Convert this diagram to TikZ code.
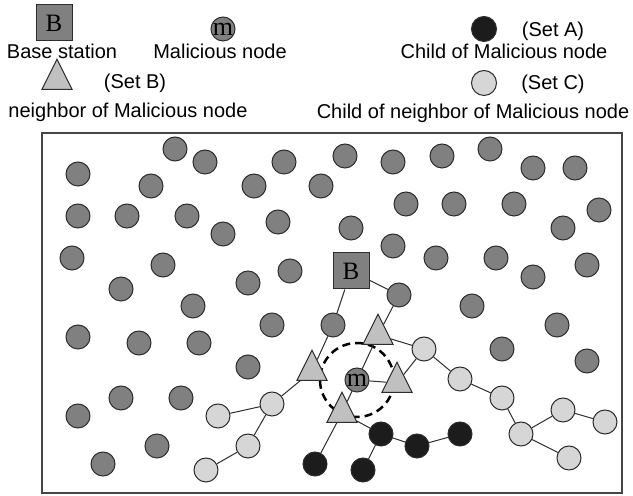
\documentclass[tikz,border=0pt]{standalone}
\usepackage{fontspec}
\setmainfont{Liberation Sans}
\newfontfamily\markfont{Liberation Serif}
\usetikzlibrary{shapes.geometric}
\definecolor{nodegray}{RGB}{128,128,128}
\definecolor{childblack}{RGB}{28,28,28}
\definecolor{childlight}{RGB}{214,214,214}
\definecolor{trifill}{RGB}{192,192,192}
\definecolor{edgegray}{RGB}{45,45,45}
\definecolor{framegray}{RGB}{70,70,70}
\tikzset{
  sensor/.style={circle, draw=edgegray, line width=0.5pt, minimum size=12pt, inner sep=0pt},
  plainnode/.style={sensor, fill=nodegray},
  childnode/.style={sensor, fill=childblack},
  subchild/.style={sensor, fill=childlight},
  neighbour/.style={isosceles triangle, isosceles triangle stretches, shape border rotate=90, draw=edgegray, fill=trifill, line width=0.5pt, minimum width=15pt, minimum height=15pt, inner sep=0pt},
  basestation/.style={rectangle, draw=edgegray, fill=nodegray, line width=0.5pt, minimum size=18pt, inner sep=0pt, font=\markfont\fontsize{12.5}{12.5}\selectfont},
  malicious/.style={plainnode, font=\markfont\fontsize{13}{13}\selectfont},
  link/.style={draw=edgegray, line width=0.5pt},
  legendtext/.style={anchor=base, inner sep=0pt, font=\fontsize{10}{12}\selectfont},
  ring/.style={draw=black, line width=1.25pt, dash pattern=on 4pt off 2.5pt}
}

\begin{document}
\begin{tikzpicture}[x=0.5pt, y=-0.5pt]
			%%%%% START %%%%%
			\useasboundingbox (0,0) rectangle (633,496);
			
			%%%%% legend
			\node[basestation] (lgB) at (54,23) {B};
			\node[legendtext] (lgBtxt) at (62,59) {Base station};
			\node[malicious] (lgM) at (223,29) {m};
			\node[legendtext] (lgMtxt) at (220,59) {Malicious node};
			\node[childnode, minimum size=12.5pt] (lgA) at (484,29) {};
			\node[legendtext] (lgAset) at (553,37) {(Set A)};
			\node[legendtext] (lgAtxt) at (504,59) {Child of Malicious node};
			\node[neighbour] (lgT) at (57,80) {};
			\node[legendtext] (lgTset) at (135,89) {(Set B)};
			\node[legendtext] (lgTtxt) at (128,118) {neighbor of Malicious node};
			\node[subchild, minimum size=12.5pt] (lgC) at (484,83) {};
			\node[legendtext] (lgCset) at (553,90) {(Set C)};
			\node[legendtext] (lgCtxt) at (473,119) {Child of neighbor of Malicious node};
			
			%%%%% field
			\draw[line width=0.75pt, draw=framegray] (42,133) rectangle (622,493);
			
			\coordinate (mc) at (357,380);
			\draw[ring] (mc) circle (18.5pt);
			
			\node[plainnode] (g1) at (78,174) {};
			\node[plainnode] (g2) at (175,149) {};
			\node[plainnode] (g3) at (205,162) {};
			\node[plainnode] (g4) at (284,162) {};
			\node[plainnode] (g5) at (151,186) {};
			\node[plainnode] (g6) at (254,186) {};
			\node[plainnode] (g7) at (321,186) {};
			\node[plainnode] (g8) at (345,156) {};
			\node[plainnode] (g9) at (393,162) {};
			\node[plainnode] (g10) at (442,156) {};
			\node[plainnode] (g11) at (490,149) {};
			\node[plainnode] (g12) at (533,168) {};
			\node[plainnode] (g13) at (575,168) {};
			\node[plainnode] (g14) at (78,216) {};
			\node[plainnode] (g15) at (127,216) {};
			\node[plainnode] (g16) at (187,216) {};
			\node[plainnode] (g17) at (223,234) {};
			\node[plainnode] (g18) at (278,222) {};
			\node[plainnode] (g19) at (406,204) {};
			\node[plainnode] (g20) at (454,204) {};
			\node[plainnode] (g21) at (514,204) {};
			\node[plainnode] (g22) at (599,210) {};
			\node[plainnode] (g23) at (72,258) {};
			\node[plainnode] (g24) at (163,265) {};
			\node[plainnode] (g25) at (121,289) {};
			\node[plainnode] (g26) at (248,283) {};
			\node[plainnode] (g27) at (290,271) {};
			\node[plainnode] (g28) at (193,306) {};
			\node[plainnode] (g29) at (351,228) {};
			\node[plainnode] (g30) at (393,246) {};
			\node[plainnode] (g31) at (436,258) {};
			\node[plainnode] (g32) at (496,258) {};
			\node[plainnode] (g33) at (563,228) {};
			\node[plainnode] (g34) at (587,265) {};
			\node[plainnode] (g35) at (533,277) {};
			\node[plainnode] (g36) at (399,295) {};
			\node[plainnode] (g37) at (472,306) {};
			\node[plainnode] (g38) at (78,337) {};
			\node[plainnode] (g39) at (139,343) {};
			\node[plainnode] (g40) at (199,343) {};
			\node[plainnode] (g41) at (272,325) {};
			\node[plainnode] (g42) at (248,367) {};
			\node[plainnode] (g43) at (121,398) {};
			\node[plainnode] (g44) at (181,398) {};
			\node[plainnode] (g45) at (78,416) {};
			\node[plainnode] (g46) at (157,446) {};
			\node[plainnode] (g47) at (103,464) {};
			\node[plainnode] (g48) at (333,325) {};
			\node[plainnode] (g49) at (557,325) {};
			\node[plainnode] (g50) at (502,349) {};
			\node[plainnode] (g51) at (587,361) {};
			
			\node[basestation] (bs) at (351,271) {B};
			\node[malicious] (m) at (mc) {m};
			
			\node[neighbour] (tT) at (378,335) {};
			\node[neighbour] (tL) at (312,371) {};
			\node[neighbour] (tR) at (397,383) {};
			\node[neighbour] (tB) at (342,413) {};
			
			\node[subchild] (l1) at (424,349) {};
			\node[subchild] (l2) at (460,379) {};
			\node[subchild] (l3) at (502,398) {};
			\node[subchild] (l4) at (521,434) {};
			\node[subchild] (l5) at (563,410) {};
			\node[subchild] (l6) at (605,422) {};
			\node[subchild] (l7) at (569,458) {};
			\node[subchild] (l8) at (272,404) {};
			\node[subchild] (l9) at (218,416) {};
			\node[subchild] (l10) at (248,446) {};
			\node[subchild] (l11) at (206,470) {};
			
			\node[childnode] (a1) at (381,434) {};
			\node[childnode] (a2) at (417,446) {};
			\node[childnode] (a3) at (460,434) {};
			\node[childnode] (a4) at (315,464) {};
			\node[childnode] (a5) at (363,470) {};
			
			%%%%% routes
			\draw[link] (bs) -- (g36) -- (tT);
			\draw[link] (bs) -- (g48) -- (tL);
			\draw[link] (tT) -- (l1);
			\draw[link] (tT) -- (m);
			\draw[link] (m) -- (tR);
			\draw[link] (m) -- (tB);
			\draw[link] (tR) -- (l1);
			\draw[link] (l1) -- (l2) -- (l3) -- (l4) -- (l5) -- (l6);
			\draw[link] (l4) -- (l7);
			\draw[link] (tL) -- (l8) -- (l9);
			\draw[link] (l8) -- (l10) -- (l11);
			\draw[link] (tB) -- (a1) -- (a2) -- (a3);
			\draw[link] (a1) -- (a5);
			\draw[link] (tB) -- (a4);
			
			%%%%% END %%%%%
\end{tikzpicture}
\end{document}
